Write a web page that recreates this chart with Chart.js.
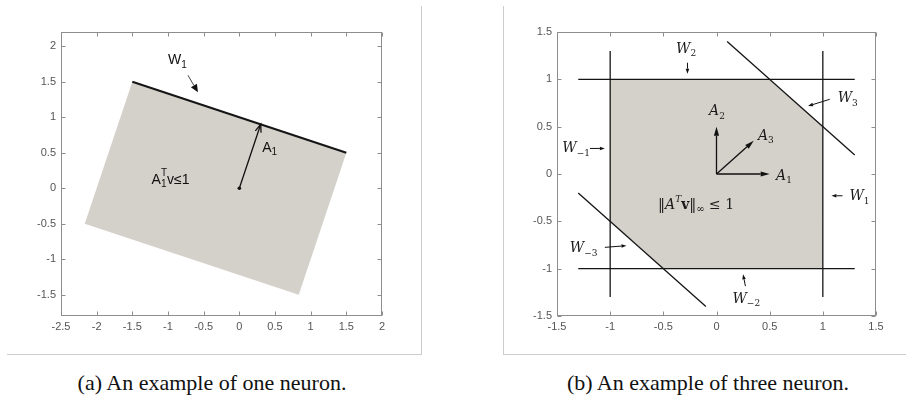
<!DOCTYPE html>
<html>
<head>
<meta charset="utf-8">
<script src="https://cdn.jsdelivr.net/npm/chart.js@4.4.0/dist/chart.umd.min.js"></script>
<style>
    body { margin: 0; background: #fff; width: 906px; height: 401px; position: relative; overflow: hidden; }
    canvas { position: absolute; top: 0; }
    #chartA { left: 0; }
    #chartB { left: 450px; }
    .frame { position: absolute; background: #cdcdcd; }
    .caption {
        position: absolute; top: 372px; transform: translateX(-50%);
        font-family: "Liberation Serif", "DejaVu Serif", serif;
        font-size: 22px; line-height: 22px; color: #111; white-space: nowrap;
    }
</style>
</head>
<body>
<canvas id="chartA" width="450" height="360"></canvas>
<canvas id="chartB" width="456" height="360"></canvas>
<div class="frame" style="left:421px;top:6px;width:1px;height:348px"></div>
<div class="frame" style="left:7px;top:354px;width:415px;height:1px"></div>
<div class="frame" style="left:503px;top:6px;width:1px;height:348px"></div>
<div class="frame" style="left:503px;top:354px;width:403px;height:1px"></div>
<div class="caption" style="left:212px">(a) An example of one neuron.</div>
<div class="caption" style="left:708px">(b) An example of three neuron.</div>
<script>
// (a) 一个神经元
const aTicksX = [-2.5, -2, -1.5, -1, -0.5, 0, 0.5, 1, 1.5, 2];
const aTicksY = [-1.5, -1, -0.5, 0, 0.5, 1, 1.5, 2];
const aRangeX = [-2.5, 2];
const aRangeY = [-1.8, 2.2];
const aRegionX = [-1.5, 1.5, 0.833, -2.167];
const aRegionY = [1.5, 0.5, -1.5, -0.5];
const aBoundaryX = [-1.5, 1.5];
const aBoundaryY = [1.5, 0.5];
const aVector = [0.3, 0.9];
const aPointer = [-0.72, 1.59, -0.58, 1.35];
const aLabels = [
    { base: 'W', sub: '1', x: -1.0, y: 1.8 },
    { base: 'A', sub: '1', x: 0.32, y: 0.57 }
];
const aConstraintAt = [-1.23, 0.12];

// (b) 三个神经元
const bTicks = [-1.5, -1, -0.5, 0, 0.5, 1, 1.5];
const bRange = [-1.5, 1.5];
const bRegionX = [-1, 0.5, 1, 1, -0.5, -1];
const bRegionY = [1, 1, 0.5, -1, -1, -0.5];
const bSpan = [-1.3, 1.3];
const bHorizontalY = [1, -1];
const bVerticalX = [-1, 1];
const bDiagonalX = [[0.1, 1.3], [-1.3, -0.1]];
const bDiagonalY = [[1.4, 0.2], [-0.2, -1.4]];
const bVectors = [[0.5, 0], [0, 0.5], [0.35, 0.35]];
const bPointers = [
    [-0.273, 1.175, -0.273, 1.06],
    [1.065, 0.789, 0.861, 0.718],
    [1.185, -0.23, 1.081, -0.23],
    [-1.19, 0.27, -1.05, 0.27],
    [-1.05, -0.775, -0.847, -0.757],
    [0.272, -1.185, 0.25, -1.06]
];
const bLabels = [
    { base: 'W', sub: '2', x: -0.38, y: 1.32 },
    { base: 'W', sub: '3', x: 1.14, y: 0.80 },
    { base: 'A', sub: '2', x: -0.07, y: 0.66 },
    { base: 'A', sub: '3', x: 0.39, y: 0.40 },
    { base: 'A', sub: '1', x: 0.56, y: -0.02 },
    { base: 'W', sub: '1', x: 1.25, y: -0.24 },
    { base: 'W', sub: '\u22121', x: -1.45, y: 0.27 },
    { base: 'W', sub: '\u22123', x: -1.38, y: -0.79 },
    { base: 'W', sub: '\u22122', x: 0.15, y: -1.32 }
];
const bNormAt = [-0.55, -0.33];

const REGION = '#d4d0ca';

function pts(xs, ys) {
    return xs.map((x, i) => ({ x, y: ys[i] }));
}

function closed(xs, ys) {
    const p = pts(xs, ys);
    p.push(p[0]);
    return p;
}

function axis(range, ticks, pos, size) {
    return {
        type: 'linear',
        position: pos,
        min: range[0],
        max: range[1],
        afterBuildTicks: s => { s.ticks = ticks.map(v => ({ value: v })); },
        afterFit: s => {
            if (pos === 'bottom') s.height = size; else s.width = size;
        },
        grid: { display: false, drawTicks: false },
        border: { display: false },
        ticks: {
            color: '#555',
            font: { family: 'Liberation Sans', size: 11 },
            padding: pos === 'bottom' ? 4 : 5,
            maxRotation: 0,
            autoSkip: false,
            callback: v => String(v)
        }
    };
}

// 线条画在填充区域上面
function line(data, width) {
    return {
        data,
        order: 0,
        showLine: true,
        borderColor: '#151515',
        borderWidth: width,
        pointRadius: 0,
        fill: false
    };
}

function region(data) {
    return {
        data,
        order: 10,
        showLine: true,
        borderWidth: 0,
        borderColor: 'rgba(0,0,0,0)',
        backgroundColor: REGION,
        pointRadius: 0,
        fill: 'shape'
    };
}

// 坐标框和向内的刻度线
const frameBox = {
    id: 'frameBox',
    beforeDatasetsDraw(chart) {
        const { ctx, chartArea: a, scales: { x, y } } = chart;
        const l = Math.round(a.left) + 0.5, r = Math.round(a.right) - 0.5;
        const t = Math.round(a.top) + 0.5, b = Math.round(a.bottom) - 0.5;
        ctx.save();
        ctx.strokeStyle = '#8e8e8e';
        ctx.lineWidth = 1;
        ctx.strokeRect(l, t, r - l, b - t);
        ctx.beginPath();
        x.ticks.forEach(tk => {
            const px = Math.round(x.getPixelForValue(tk.value)) + 0.5;
            ctx.moveTo(px, b); ctx.lineTo(px, b - 4);
            ctx.moveTo(px, t); ctx.lineTo(px, t + 4);
        });
        y.ticks.forEach(tk => {
            const py = Math.round(y.getPixelForValue(tk.value)) + 0.5;
            ctx.moveTo(l, py); ctx.lineTo(l + 4, py);
            ctx.moveTo(r, py); ctx.lineTo(r - 4, py);
        });
        ctx.stroke();
        ctx.restore();
    }
};

function arrow(ctx, x1, y1, x2, y2, len, half, filled) {
    const ang = Math.atan2(y2 - y1, x2 - x1);
    const bx = x2 - len * Math.cos(ang), by = y2 - len * Math.sin(ang);
    const ox = -Math.sin(ang) * half, oy = Math.cos(ang) * half;
    ctx.beginPath();
    ctx.moveTo(x1, y1);
    ctx.lineTo(filled ? bx : x2, filled ? by : y2);
    ctx.stroke();
    ctx.beginPath();
    ctx.moveTo(bx + ox, by + oy);
    ctx.lineTo(x2, y2);
    ctx.lineTo(bx - ox, by - oy);
    if (filled) { ctx.closePath(); ctx.fill(); } else ctx.stroke();
}

function rich(ctx, x, y, parts) {
    let cx = x;
    parts.forEach(p => {
        ctx.font = p.font;
        ctx.fillText(p.t, cx, y + (p.dy || 0));
        if (!p.stay) cx += ctx.measureText(p.t).width;
    });
}

const annotA = {
    id: 'annotA',
    afterDatasetsDraw(chart) {
        const { ctx, scales: { x, y } } = chart;
        const X = v => x.getPixelForValue(v), Y = v => y.getPixelForValue(v);
        ctx.save();
        ctx.strokeStyle = '#111';
        ctx.fillStyle = '#111';
        ctx.lineWidth = 1.3;
        arrow(ctx, X(0), Y(0), X(aVector[0]), Y(aVector[1]), 8, 3, false);
        ctx.beginPath();
        ctx.arc(X(0), Y(0), 1.8, 0, Math.PI * 2);
        ctx.fill();
        ctx.lineWidth = 1;
        ctx.strokeStyle = '#444';
        arrow(ctx, X(aPointer[0]), Y(aPointer[1]), X(aPointer[2]), Y(aPointer[3]), 8, 3.5, true);

        ctx.textBaseline = 'middle';
        ctx.textAlign = 'left';
        const big = '14px "Liberation Sans"', small = '10px "Liberation Sans"';
        aLabels.forEach(lb => {
            rich(ctx, X(lb.x), Y(lb.y), [
                { t: lb.base, font: big },
                { t: lb.sub, font: small, dy: 5 }
            ]);
        });
        rich(ctx, X(aConstraintAt[0]), Y(aConstraintAt[1]), [
            { t: 'A', font: big },
            { t: '1', font: small, dy: 5, stay: true },
            { t: 'T', font: small, dy: -6 },
            { t: 'v\u22641', font: big }
        ]);
        ctx.restore();
    }
};

const annotB = {
    id: 'annotB',
    afterDatasetsDraw(chart) {
        const { ctx, scales: { x, y } } = chart;
        const X = v => x.getPixelForValue(v), Y = v => y.getPixelForValue(v);
        ctx.save();
        ctx.strokeStyle = '#111';
        ctx.fillStyle = '#111';
        ctx.lineWidth = 1.3;
        bVectors.forEach(v => arrow(ctx, X(0), Y(0), X(v[0]), Y(v[1]), 9, 2.6, true));
        ctx.lineWidth = 1;
        bPointers.forEach(p => arrow(ctx, X(p[0]), Y(p[1]), X(p[2]), Y(p[3]), 5, 1.8, true));

        ctx.fillStyle = '#1a1a1a';
        ctx.textBaseline = 'middle';
        ctx.textAlign = 'left';
        const it = 'italic 14px "DejaVu Serif"', up = '14px "DejaVu Serif"';
        const sub = '9px "DejaVu Serif"';
        bLabels.forEach(lb => {
            rich(ctx, X(lb.x), Y(lb.y), [
                { t: lb.base, font: it },
                { t: lb.sub, font: sub, dy: 5 }
            ]);
        });
        rich(ctx, X(bNormAt[0]), Y(bNormAt[1]), [
            { t: '\u2016', font: up },
            { t: 'A', font: it },
            { t: 'T', font: 'italic 9px "DejaVu Serif"', dy: -6 },
            { t: 'v', font: 'bold 14px "DejaVu Serif"' },
            { t: '\u2016', font: up },
            { t: '\u221e', font: '10px "DejaVu Serif"', dy: 4 },
            { t: ' \u2264 1', font: up }
        ]);
        ctx.restore();
    }
};

new Chart(document.getElementById('chartA'), {
    type: 'scatter',
    data: {
        datasets: [
            region(closed(aRegionX, aRegionY)),
            line(pts(aBoundaryX, aBoundaryY), 2)
        ]
    },
    options: {
        responsive: false,
        animation: false,
        layout: { padding: { left: 0, right: 68, top: 32, bottom: 0 } },
        scales: {
            x: axis(aRangeX, aTicksX, 'bottom', 44),
            y: axis(aRangeY, aTicksY, 'left', 61)
        },
        plugins: { legend: { display: false }, tooltip: { enabled: false } }
    },
    plugins: [frameBox, annotA]
});

const bLines = [];
bHorizontalY.forEach(v => bLines.push(line(pts(bSpan, [v, v]), 1.3)));
bVerticalX.forEach(v => bLines.push(line(pts([v, v], bSpan), 1.3)));
bDiagonalX.forEach((xs, i) => bLines.push(line(pts(xs, bDiagonalY[i]), 1.3)));

new Chart(document.getElementById('chartB'), {
    type: 'scatter',
    data: {
        datasets: [region(closed(bRegionX, bRegionY))].concat(bLines)
    },
    options: {
        responsive: false,
        animation: false,
        layout: { padding: { left: 0, right: 30, top: 32, bottom: 0 } },
        scales: {
            x: axis(bRange, bTicks, 'bottom', 44),
            y: axis(bRange, bTicks, 'left', 107)
        },
        plugins: { legend: { display: false }, tooltip: { enabled: false } }
    },
    plugins: [frameBox, annotB]
});
</script>
</body>
</html>
